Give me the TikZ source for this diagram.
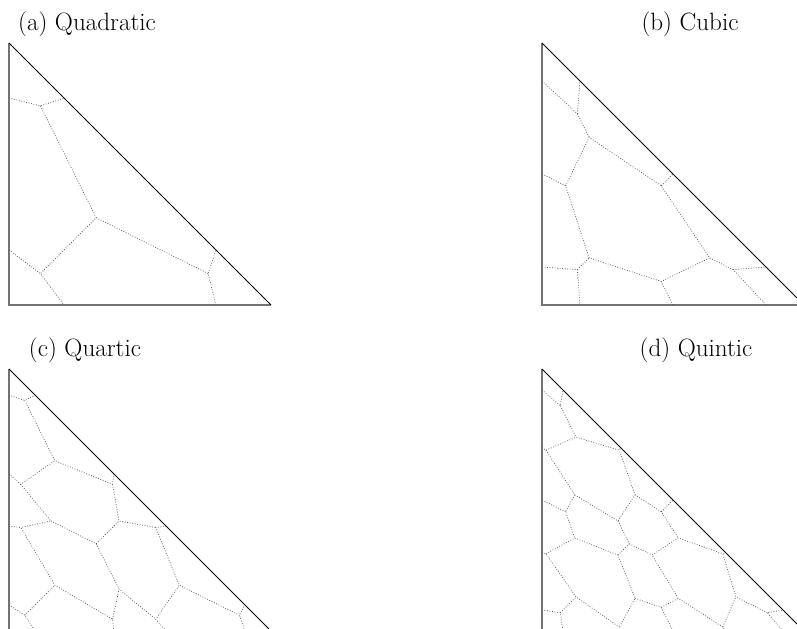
\documentclass[tikz,border=0pt]{standalone}
\begin{document}
\begin{tikzpicture}[x=0.75pt, y=-0.75pt,
    cell/.style={dash pattern=on 0.6pt off 1.3pt, line width=0.55pt, black!65},
    legs/.style={line width=1.1pt, black!55},
    hyp/.style={line width=0.75pt, black}]
  \tikzstyle{every node}=[font=\fontsize{18.8}{22}\selectfont, inner sep=0pt]
  \useasboundingbox (0,0) rectangle (797,629);
  \clip (0,0) rectangle (797,629);

  % captions
  \node (capa) at (87,24) {(a) Quadratic};
  \node (capb) at (690,24) {(b) Cubic};
  \node (capc) at (85,350) {(c) Quartic};
  \node (capd) at (696,350) {(d) Quintic};

  % (a) quadratic
  \begin{scope}[shift={(9,305)}, x=196.5pt, y=196.5pt]
    \coordinate (a-o) at (0,0);
    \coordinate (a-r) at (1,0);
    \coordinate (a-t) at (0,1);
    \coordinate (a-l1) at (0,0.21);
    \coordinate (a-l2) at (0,0.79);
    \coordinate (a-b1) at (0.21,0);
    \coordinate (a-b2) at (0.79,0);
    \coordinate (a-h1) at (0.79,0.21);
    \coordinate (a-h2) at (0.21,0.79);
    \coordinate (a-kt) at (0.12,0.76);
    \coordinate (a-ko) at (0.12,0.12);
    \coordinate (a-kr) at (0.76,0.12);
    \coordinate (a-m) at (0.333,0.333);
    \draw[legs] (a-t) -- (a-o) -- (a-r);
    \draw[hyp] (a-r) -- (a-t);
    \draw[cell] (a-l2) -- (a-kt) -- (a-h2);
    \draw[cell] (a-l1) -- (a-ko) -- (a-b1);
    \draw[cell] (a-b2) -- (a-kr) -- (a-h1);
    \draw[cell] (a-kt) -- (a-m) -- (a-ko);
    \draw[cell] (a-m) -- (a-kr);
  \end{scope}

  % (b) cubic
  \begin{scope}[shift={(542,305)}, x=196.5pt, y=196.5pt]
    \coordinate (b-o) at (0,0);
    \coordinate (b-r) at (1,0);
    \coordinate (b-t) at (0,1);
    \coordinate (b-l1) at (0,0.145);
    \coordinate (b-l2) at (0,0.5);
    \coordinate (b-l3) at (0,0.855);
    \coordinate (b-b1) at (0.145,0);
    \coordinate (b-b2) at (0.5,0);
    \coordinate (b-b3) at (0.855,0);
    \coordinate (b-h1) at (0.855,0.145);
    \coordinate (b-h2) at (0.5,0.5);
    \coordinate (b-h3) at (0.145,0.855);
    \coordinate (b-kt) at (0.135,0.73);
    \coordinate (b-ko) at (0.135,0.135);
    \coordinate (b-kr) at (0.73,0.135);
    \coordinate (b-xt) at (0.18,0.64);
    \coordinate (b-xo) at (0.18,0.18);
    \coordinate (b-xr) at (0.64,0.18);
    \coordinate (b-yl) at (0.09,0.455);
    \coordinate (b-yh) at (0.455,0.455);
    \coordinate (b-yb) at (0.455,0.09);
    \draw[legs] (b-t) -- (b-o) -- (b-r);
    \draw[hyp] (b-r) -- (b-t);
    \draw[cell] (b-l3) -- (b-kt) -- (b-h3);
    \draw[cell] (b-l1) -- (b-ko) -- (b-b1);
    \draw[cell] (b-b3) -- (b-kr) -- (b-h1);
    \draw[cell] (b-kt) -- (b-xt);
    \draw[cell] (b-ko) -- (b-xo);
    \draw[cell] (b-kr) -- (b-xr);
    \draw[cell] (b-yl) -- (b-xt) -- (b-yh) -- (b-xr) -- (b-yb) -- (b-xo) -- cycle;
    \draw[cell] (b-yl) -- (b-l2);
    \draw[cell] (b-yh) -- (b-h2);
    \draw[cell] (b-yb) -- (b-b2);
  \end{scope}

  % (c) quartic
  \begin{scope}[shift={(9,631)}, x=196.5pt, y=196.5pt]
    \coordinate (c-o) at (0,0);
    \coordinate (c-r) at (1,0);
    \coordinate (c-t) at (0,1);
    \coordinate (c-l1) at (0,0.1);
    \coordinate (c-l2) at (0,0.4);
    \coordinate (c-l3) at (0,0.6);
    \coordinate (c-l4) at (0,0.9);
    \coordinate (c-b1) at (0.1,0);
    \coordinate (c-b2) at (0.4,0);
    \coordinate (c-b3) at (0.6,0);
    \coordinate (c-b4) at (0.9,0);
    \coordinate (c-h1) at (0.9,0.1);
    \coordinate (c-h2) at (0.6,0.4);
    \coordinate (c-h3) at (0.4,0.6);
    \coordinate (c-h4) at (0.1,0.9);
    \coordinate (c-kt) at (0.06,0.88);
    \coordinate (c-ko) at (0.06,0.06);
    \coordinate (c-kr) at (0.88,0.06);
    \coordinate (c-st) at (0.175,0.65);
    \coordinate (c-so) at (0.175,0.175);
    \coordinate (c-sr) at (0.65,0.175);
    \coordinate (c-etl) at (0.045,0.56);
    \coordinate (c-etr) at (0.395,0.56);
    \coordinate (c-eol) at (0.045,0.395);
    \coordinate (c-eob) at (0.395,0.045);
    \coordinate (c-erb) at (0.56,0.045);
    \coordinate (c-erh) at (0.56,0.395);
    \coordinate (c-ml) at (0.16,0.42);
    \coordinate (c-mh) at (0.42,0.42);
    \coordinate (c-mb) at (0.42,0.16);
    \coordinate (c-m) at (0.333,0.333);
    \draw[legs] (c-t) -- (c-o) -- (c-r);
    \draw[hyp] (c-r) -- (c-t);
    \draw[cell] (c-l4) -- (c-kt) -- (c-h4);
    \draw[cell] (c-l1) -- (c-ko) -- (c-b1);
    \draw[cell] (c-b4) -- (c-kr) -- (c-h1);
    \draw[cell] (c-kt) -- (c-st);
    \draw[cell] (c-ko) -- (c-so);
    \draw[cell] (c-kr) -- (c-sr);
    \draw[cell] (c-l3) -- (c-etl) -- (c-st) -- (c-etr) -- (c-h3);
    \draw[cell] (c-l2) -- (c-eol) -- (c-so) -- (c-eob) -- (c-b2);
    \draw[cell] (c-b3) -- (c-erb) -- (c-sr) -- (c-erh) -- (c-h2);
    \draw[cell] (c-etl) -- (c-ml) -- (c-eol);
    \draw[cell] (c-etr) -- (c-mh) -- (c-erh);
    \draw[cell] (c-eob) -- (c-mb) -- (c-erb);
    \draw[cell] (c-ml) -- (c-m) -- (c-mh);
    \draw[cell] (c-m) -- (c-mb);
  \end{scope}

  % (d) quintic
  \begin{scope}[shift={(542,631)}, x=196.5pt, y=196.5pt]
    \coordinate (d-o) at (0,0);
    \coordinate (d-r) at (1,0);
    \coordinate (d-t) at (0,1);
    \coordinate (d-l1) at (0,0.08);
    \coordinate (d-l2) at (0,0.3);
    \coordinate (d-l3) at (0,0.5);
    \coordinate (d-l4) at (0,0.7);
    \coordinate (d-l5) at (0,0.92);
    \coordinate (d-b1) at (0.08,0);
    \coordinate (d-b2) at (0.3,0);
    \coordinate (d-b3) at (0.5,0);
    \coordinate (d-b4) at (0.7,0);
    \coordinate (d-b5) at (0.92,0);
    \coordinate (d-h1) at (0.92,0.08);
    \coordinate (d-h2) at (0.7,0.3);
    \coordinate (d-h3) at (0.5,0.5);
    \coordinate (d-h4) at (0.3,0.7);
    \coordinate (d-h5) at (0.08,0.92);
    \coordinate (d-kt) at (0.07,0.86);
    \coordinate (d-ko) at (0.07,0.07);
    \coordinate (d-kr) at (0.86,0.07);
    \coordinate (d-at) at (0.13,0.74);
    \coordinate (d-ao) at (0.13,0.13);
    \coordinate (d-ar) at (0.74,0.13);
    \coordinate (d-btl) at (0.015,0.69);
    \coordinate (d-btr) at (0.295,0.69);
    \coordinate (d-bol) at (0.015,0.295);
    \coordinate (d-bob) at (0.295,0.015);
    \coordinate (d-brb) at (0.69,0.015);
    \coordinate (d-brh) at (0.69,0.295);
    \coordinate (d-dtl) at (0.125,0.52);
    \coordinate (d-dtr) at (0.355,0.52);
    \coordinate (d-dol) at (0.125,0.355);
    \coordinate (d-dob) at (0.355,0.125);
    \coordinate (d-drb) at (0.52,0.125);
    \coordinate (d-drh) at (0.52,0.355);
    \coordinate (d-cl) at (0.09,0.455);
    \coordinate (d-ch) at (0.455,0.455);
    \coordinate (d-cb) at (0.455,0.09);
    \coordinate (d-ft) at (0.29,0.42);
    \coordinate (d-fo) at (0.29,0.29);
    \coordinate (d-fr) at (0.42,0.29);
    \coordinate (d-m) at (0.333,0.333);
    \draw[legs] (d-t) -- (d-o) -- (d-r);
    \draw[hyp] (d-r) -- (d-t);
    \draw[cell] (d-l5) -- (d-kt) -- (d-h5);
    \draw[cell] (d-l1) -- (d-ko) -- (d-b1);
    \draw[cell] (d-b5) -- (d-kr) -- (d-h1);
    \draw[cell] (d-kt) -- (d-at);
    \draw[cell] (d-ko) -- (d-ao);
    \draw[cell] (d-kr) -- (d-ar);
    \draw[cell] (d-l4) -- (d-btl) -- (d-at) -- (d-btr) -- (d-h4);
    \draw[cell] (d-l2) -- (d-bol) -- (d-ao) -- (d-bob) -- (d-b2);
    \draw[cell] (d-b4) -- (d-brb) -- (d-ar) -- (d-brh) -- (d-h2);
    \draw[cell] (d-btl) -- (d-dtl) -- (d-ft) -- (d-dtr) -- (d-btr);
    \draw[cell] (d-bol) -- (d-dol) -- (d-fo) -- (d-dob) -- (d-bob);
    \draw[cell] (d-brb) -- (d-drb) -- (d-fr) -- (d-drh) -- (d-brh);
    \draw[cell] (d-dtl) -- (d-cl) -- (d-dol);
    \draw[cell] (d-dtr) -- (d-ch) -- (d-drh);
    \draw[cell] (d-dob) -- (d-cb) -- (d-drb);
    \draw[cell] (d-cl) -- (d-l3);
    \draw[cell] (d-ch) -- (d-h3);
    \draw[cell] (d-cb) -- (d-b3);
    \draw[cell] (d-ft) -- (d-m) -- (d-fo);
    \draw[cell] (d-m) -- (d-fr);
  \end{scope}
\end{tikzpicture}
\end{document}
